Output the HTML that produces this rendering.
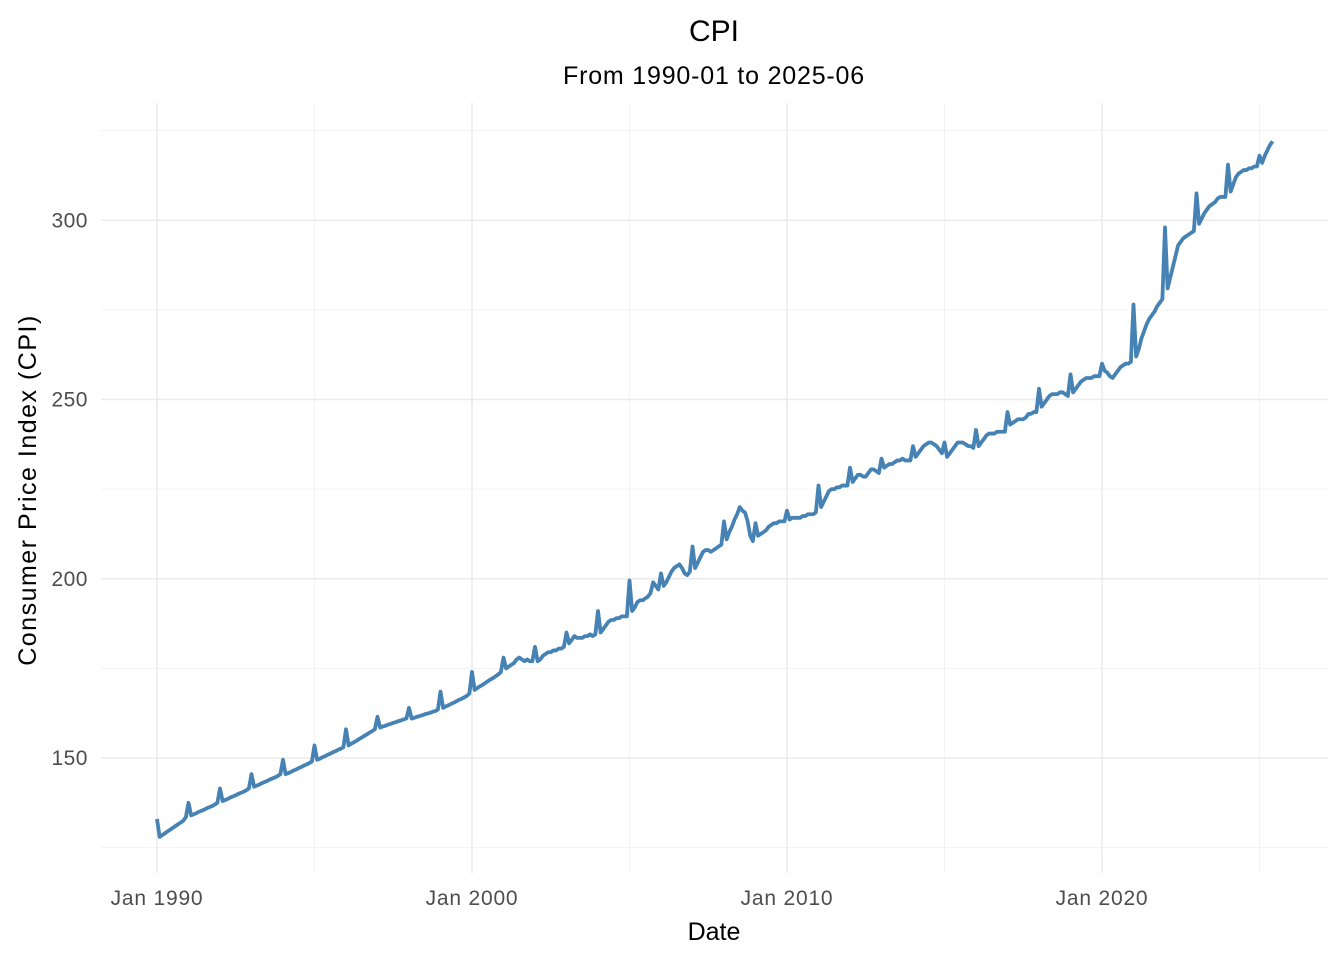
<!DOCTYPE html>
<html><head><meta charset="utf-8"><style>
html,body{margin:0;padding:0;background:#fff;}
svg{display:block;font-family:"Liberation Sans",Arial,sans-serif;}
</style></head><body>
<svg id="chart" width="1344" height="960">
<text x="714" y="41" text-anchor="middle" font-size="30" fill="#000">CPI</text>
<text x="714" y="84" text-anchor="middle" font-size="25" letter-spacing="0.8" fill="#000">From 1990-01 to 2025-06</text>
<text x="714" y="940" text-anchor="middle" font-size="25" fill="#000">Date</text>
<text transform="translate(36,490) rotate(-90)" text-anchor="middle" font-size="25" letter-spacing="1.5" fill="#000">Consumer Price Index (CPI)</text>
<g id="grid"></g><g id="ticks"></g><g id="series"></g>
</svg>
<script>
const yTicks=[150,200,250,300];
const yMinor=[125,175,225,275,325];
const xTickYears=[1990,2000,2010,2020];
const xTickLabels=["Jan 1990","Jan 2000","Jan 2010","Jan 2020"];
const xMinorYears=[1995,2005,2015,2025];
const startYear=1990;
const cpi=[
133,128,128.5,129,129.5,130,130.5,131,131.5,132,132.5,133.5,
137.5,134,134.3,134.6,135,135.3,135.6,136,136.3,136.6,137,137.5,
141.5,138,138.3,138.6,139,139.3,139.6,140,140.3,140.6,141,141.5,
145.5,142,142.3,142.6,143,143.3,143.6,144,144.3,144.6,145,145.5,
149.5,145.5,145.8,146.1,146.5,146.8,147.2,147.5,147.9,148.2,148.6,149,
153.5,149.5,149.8,150.2,150.5,150.9,151.2,151.6,151.9,152.3,152.6,153,
158,153.5,154,154.4,154.8,155.3,155.7,156.2,156.6,157.1,157.5,158,
161.5,158.5,158.8,159,159.3,159.5,159.8,160,160.3,160.5,160.8,161,
164,161,161.2,161.5,161.7,161.9,162.2,162.4,162.6,162.9,163.1,163.5,
168.5,164,164.4,164.7,165.1,165.4,165.8,166.2,166.5,166.9,167.3,168,
174,169,169.5,170,170.4,170.9,171.4,171.9,172.3,172.8,173.3,174,
178,175,175.5,176,176.5,177.5,178,177.5,177,177.5,177,177,
181,177,177.5,178.5,179,179.5,179.5,180,180,180.5,180.5,181,
185,182,183,184,183.5,183.5,183.5,184,184,184.5,184,184.5,
191,185,186,187,188,188.5,188.5,189,189,189.5,189.5,189.5,
199.5,191,192,193.5,194,194,194.5,195,196,199,198,197,
201.5,198,199,200.5,202,203,203.5,204,203,201.5,201,202,
209,203,204.5,206,207.5,208,208,207.5,208,208.5,209,209.5,
216,211,213,214.5,216.5,218,220,219,218.5,216,212,210.5,
215.5,212,212.5,213,213.5,214.5,215,215.5,215.5,216,216,216,
219,216.5,217,217,217,217,217.5,217.5,218,218,218,218.5,
226,220,221.5,223,224.5,225,225,225.5,225.5,226,226,226,
231,227,228,229,229,228.5,228.5,229.5,230.5,230.5,230,229.5,
233.5,231,231.5,232,232,232.5,233,233,233.5,233,233,233,
237,234,235,236,237,237.5,238,238,237.5,237,236,235,
238,234,235,236,237,238,238,238,237.5,237,237,236.5,
241.5,237,238,239,240,240.5,240.5,240.5,241,241,241,241,
246.5,243,243.5,244,244.5,244.5,244.5,245,246,246,246.5,246.5,
253,248,249,250,251,251.5,251.5,251.5,252,252,251.5,251,
257,252,253,254,255,255.5,256,256,256,256.5,256.5,256.5,
260,258,257.5,256.5,256,257,258,259,259.5,260,260,260.5,
276.5,262,264,267,269,271,272.5,273.5,274.5,276,277,278,
298,281,284,287,290,293,294,295,295.5,296,296.5,297,
307.5,299,300.5,302,303,304,304.5,305,306,306.5,306.5,306.5,
315.5,308,310,312,313,313.5,314,314,314.5,314.5,315,315,
318,316,318,319.5,321,322
];
const NS="http://www.w3.org/2000/svg";
const PL=101,PR=1328,PT=103,PB=873;
function xs(yr){return 157+(yr-1990)*31.5;}
function ys(v){return 758-(v-150)*3.585;}
function mk(tag,attrs,parent){const e=document.createElementNS(NS,tag);for(const k in attrs)e.setAttribute(k,attrs[k]);parent.appendChild(e);return e;}
const grid=document.getElementById('grid'),ticks=document.getElementById('ticks'),series=document.getElementById('series');
yMinor.forEach(v=>{const l=mk('line',{x1:PL,x2:PR,y1:ys(v),y2:ys(v),stroke:'#f3f3f3','stroke-width':1},grid);

});
xMinorYears.forEach(v=>{const l=mk('line',{x1:xs(v),x2:xs(v),y1:PT,y2:PB,stroke:'#f3f3f3','stroke-width':1},grid);

});
yTicks.forEach(v=>{const l=mk('line',{x1:PL,x2:PR,y1:ys(v),y2:ys(v),stroke:'#ebebeb','stroke-width':1.6},grid);


const t=mk('text',{x:88,y:ys(v)+7,'text-anchor':'end','font-size':21,'letter-spacing':0.5,fill:'#4d4d4d'},ticks);t.textContent=v;

});
xTickYears.forEach((v,i)=>{const l=mk('line',{x1:xs(v),x2:xs(v),y1:PT,y2:PB,stroke:'#ebebeb','stroke-width':1.6},grid);


const t=mk('text',{x:xs(v),y:905,'text-anchor':'middle','font-size':21,'letter-spacing':0.8,fill:'#4d4d4d'},ticks);t.textContent=xTickLabels[i];

});
const pts=cpi.map((v,i)=>xs(startYear+i/12).toFixed(2)+','+ys(v).toFixed(2)).join(' ');
const pl=mk('polyline',{points:pts,fill:'none',stroke:'#4682b4','stroke-width':3.8,'stroke-linejoin':'round','stroke-linecap':'butt'},series);


</script>
</body></html>
